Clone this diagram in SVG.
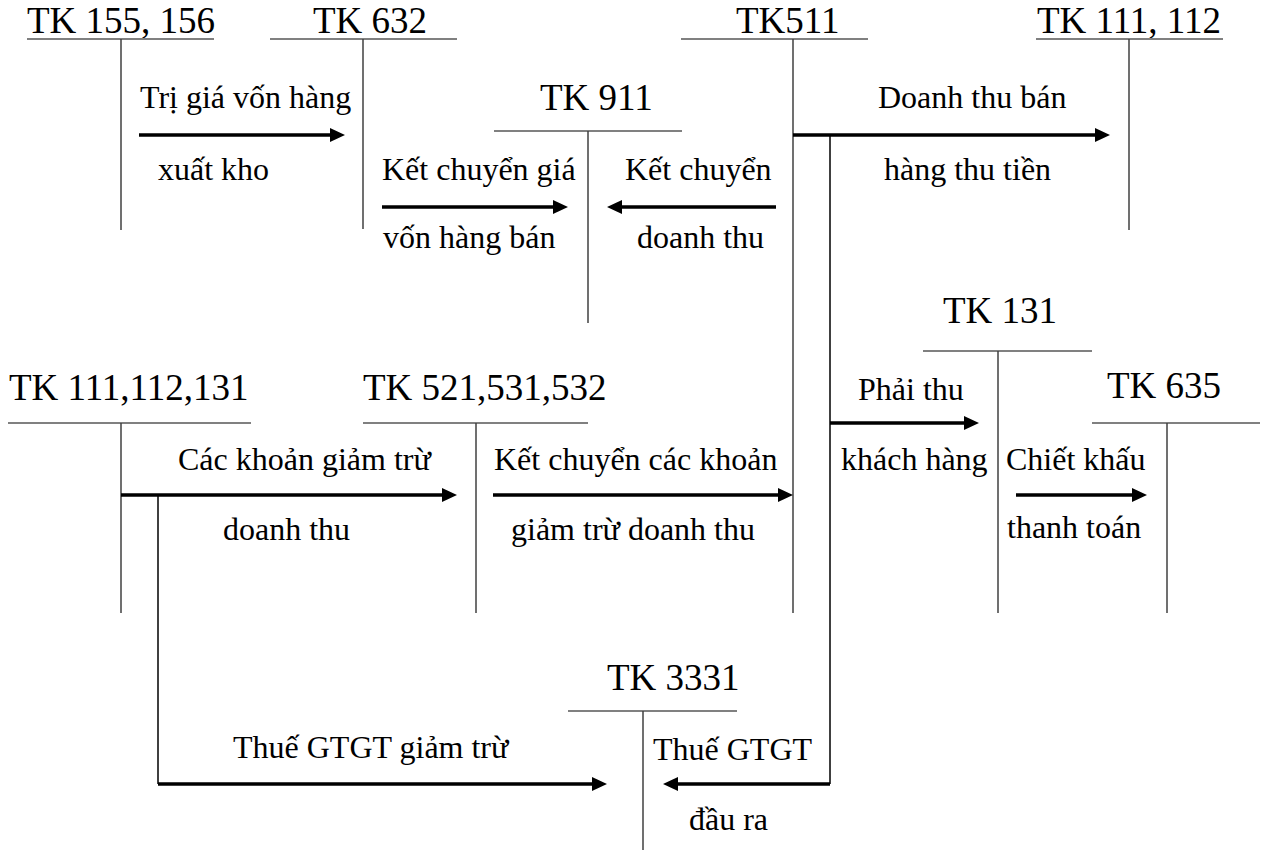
<svg xmlns="http://www.w3.org/2000/svg" width="1270" height="850" viewBox="0 0 1270 850">
<style>
  .title { font-family: "Liberation Serif", "Times New Roman", serif; font-size: 37px; fill: #000; }
  .lbl { font-family: "Liberation Serif", "Times New Roman", serif; font-size: 32px; fill: #000; }
  .h { stroke: #808080; stroke-width: 2; fill: none; }
  .v { stroke: #404040; stroke-width: 1.5; fill: none; }
  .arrow { stroke: #000; stroke-width: 3.3; fill: none; marker-end: url(#head); }
  .link { stroke: #000; stroke-width: 1.5; fill: none; }
</style>
<defs>
  <marker id="head" viewBox="0 0 15 14" refX="3" refY="7" markerWidth="15" markerHeight="14" markerUnits="userSpaceOnUse" orient="auto">
    <path d="M0,0 L15,7 L0,14 Z" fill="#000"/>
  </marker>
</defs>
<rect width="1270" height="850" fill="#fff"/>

<g id="tk155">
  <text class="title" x="27" y="33">TK 155, 156</text>
  <line class="h" x1="27" y1="39" x2="214" y2="39"/>
  <line class="v" x1="121" y1="39" x2="121" y2="230"/>
</g>
<g id="tk632">
  <text class="title" x="313" y="33">TK 632</text>
  <line class="h" x1="270" y1="39" x2="457" y2="39"/>
  <line class="v" x1="363" y1="39" x2="363" y2="229"/>
</g>
<g id="tk511">
  <text class="title" x="736" y="33">TK511</text>
  <line class="h" x1="681" y1="39" x2="868" y2="39"/>
  <line class="v" x1="793" y1="39" x2="793" y2="613"/>
</g>
<g id="tk111_112">
  <text class="title" x="1037" y="33">TK 111, 112</text>
  <line class="h" x1="1036" y1="39" x2="1223" y2="39"/>
  <line class="v" x1="1129" y1="39" x2="1129" y2="230"/>
</g>
<g id="tk911">
  <text class="title" x="540" y="110">TK 911</text>
  <line class="h" x1="494" y1="131" x2="682" y2="131"/>
  <line class="v" x1="588" y1="131" x2="588" y2="323"/>
</g>
<g id="tk131">
  <text class="title" x="943" y="323">TK 131</text>
  <line class="h" x1="923" y1="351" x2="1092" y2="351"/>
  <line class="v" x1="998" y1="351" x2="998" y2="613"/>
</g>
<g id="tk111_112_131">
  <text class="title" x="9" y="400">TK 111,112,131</text>
  <line class="h" x1="8" y1="423" x2="251" y2="423"/>
  <line class="v" x1="121" y1="423" x2="121" y2="613"/>
</g>
<g id="tk521">
  <text class="title" x="363" y="400">TK 521,531,532</text>
  <line class="h" x1="363" y1="423" x2="588" y2="423"/>
  <line class="v" x1="476" y1="423" x2="476" y2="613"/>
</g>
<g id="tk635">
  <text class="title" x="1107" y="398">TK 635</text>
  <line class="h" x1="1092" y1="423" x2="1260" y2="423"/>
  <line class="v" x1="1167" y1="423" x2="1167" y2="613"/>
</g>
<g id="tk3331">
  <text class="title" x="607" y="690">TK 3331</text>
  <line class="h" x1="568" y1="711" x2="737" y2="711"/>
  <line class="v" x1="643" y1="711" x2="643" y2="850"/>
</g>

<g id="connectors">
  <line class="arrow" x1="139" y1="135" x2="333" y2="135"/>
  <line class="arrow" x1="382" y1="207" x2="556" y2="207"/>
  <line class="arrow" x1="776" y1="207" x2="619" y2="207"/>
  <line class="arrow" x1="793" y1="135" x2="1098" y2="135"/>
  <line class="link" x1="830" y1="135" x2="830" y2="784"/>
  <line class="arrow" x1="830" y1="423" x2="967" y2="423"/>
  <line class="arrow" x1="121" y1="495" x2="445" y2="495"/>
  <line class="arrow" x1="493" y1="495" x2="781" y2="495"/>
  <line class="arrow" x1="1016" y1="495" x2="1135" y2="495"/>
  <line class="link" x1="158" y1="495" x2="158" y2="784"/>
  <line class="arrow" x1="158" y1="784" x2="595" y2="784"/>
  <line class="arrow" x1="830" y1="784" x2="675" y2="784"/>
</g>

<g id="labels">
  <text class="lbl" x="140" y="108">Trị giá vốn hàng</text>
  <text class="lbl" x="158" y="180">xuất kho</text>
  <text class="lbl" x="382" y="180">Kết chuyển giá</text>
  <text class="lbl" x="383" y="248">vốn hàng bán</text>
  <text class="lbl" x="625" y="180">Kết chuyển</text>
  <text class="lbl" x="637" y="248">doanh thu</text>
  <text class="lbl" x="878" y="108">Doanh thu bán</text>
  <text class="lbl" x="884" y="180">hàng thu tiền</text>
  <text class="lbl" x="858" y="400">Phải thu</text>
  <text class="lbl" x="841" y="470">khách hàng</text>
  <text class="lbl" x="178" y="470">Các khoản giảm trừ</text>
  <text class="lbl" x="223" y="540">doanh thu</text>
  <text class="lbl" x="494" y="470">Kết chuyển các khoản</text>
  <text class="lbl" x="511" y="540">giảm trừ doanh thu</text>
  <text class="lbl" x="1006" y="470">Chiết khấu</text>
  <text class="lbl" x="1007" y="538">thanh toán</text>
  <text class="lbl" x="233" y="758">Thuế GTGT giảm trừ</text>
  <text class="lbl" x="653" y="760">Thuế GTGT</text>
  <text class="lbl" x="689" y="830">đầu ra</text>
</g>
</svg>
